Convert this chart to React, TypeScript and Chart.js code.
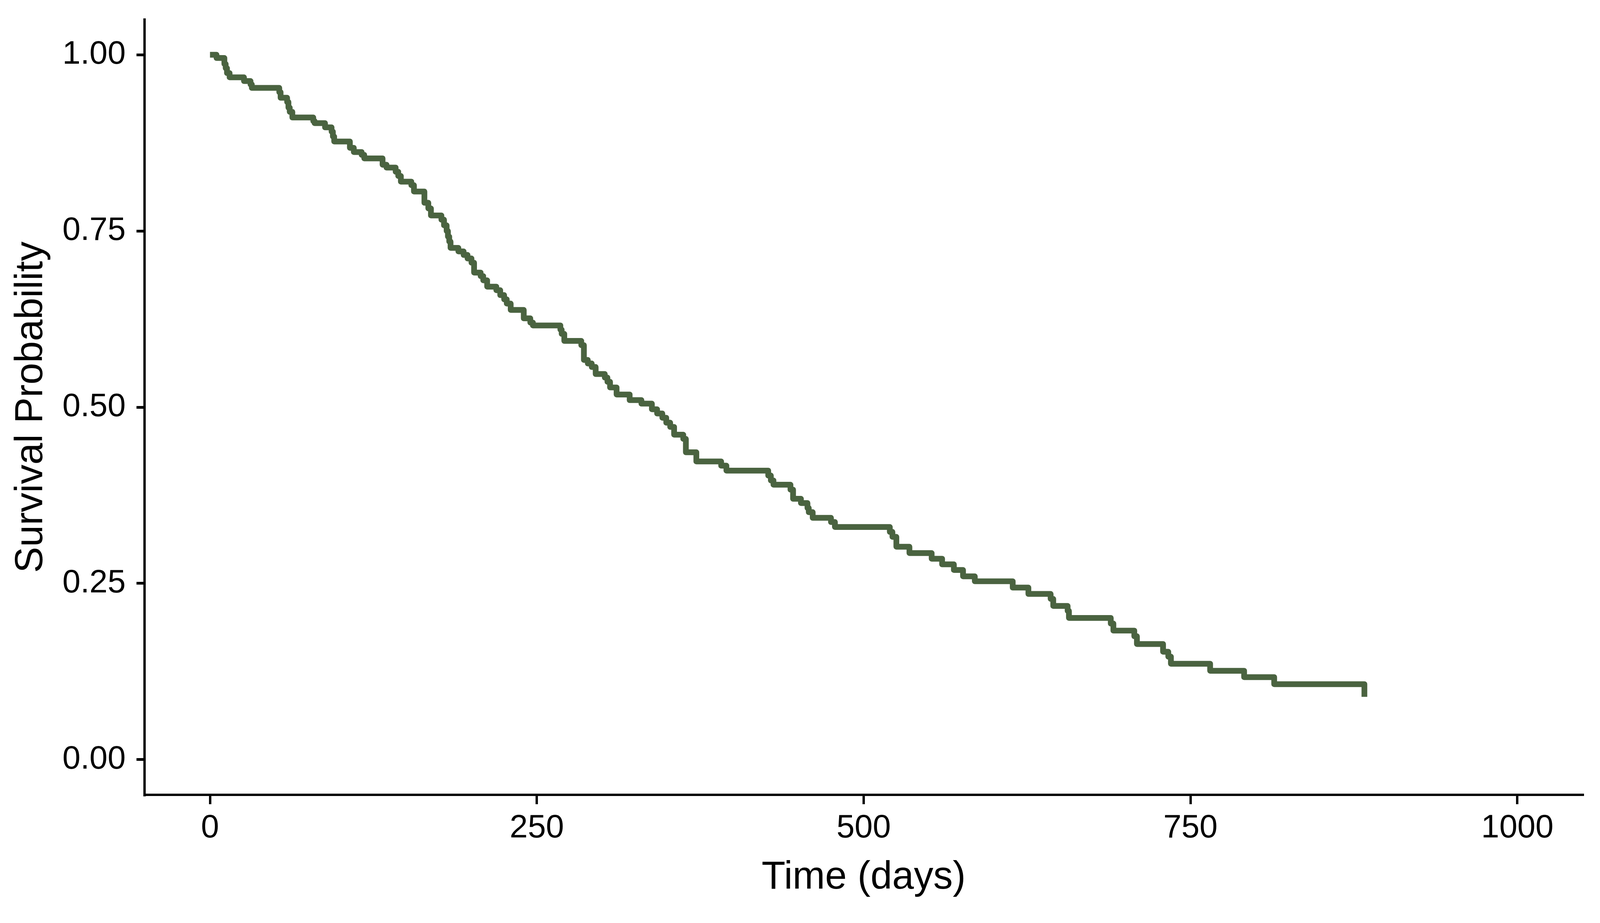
import React, { useEffect, useRef } from "react";
import Chart, { ChartConfiguration } from "chart.js/auto";

// Kaplan-Meier steps: day of each drop and the survival after it
const eventDays: number[] = [
  0, 5, 11, 12, 13, 15, 26, 31, 32, 53,
  54, 59, 60, 61, 63, 79, 80, 88, 93, 94,
  95, 107, 110, 116, 118, 132, 135, 142, 144, 146,
  154, 156, 164, 167, 169, 177, 179, 181, 182, 183,
  184, 190, 194, 197, 200, 202, 207, 209, 212, 219,
  222, 225, 227, 230, 240, 245, 247, 268, 269, 271,
  284, 286, 289, 292, 295, 302, 304, 306, 311, 321,
  330, 338, 342, 346, 349, 352, 355, 362, 364, 372,
  391, 395, 427, 429, 431, 444, 446, 452, 457, 458,
  461, 475, 478, 520, 522, 525, 535, 552, 560, 569,
  576, 585, 614, 626, 643, 645, 656, 657, 689, 691,
  707, 709, 729, 733, 735, 765, 791, 814, 883,
];

const survival: number[] = [
  1.0, 0.9954, 0.987, 0.981, 0.974, 0.968, 0.9627, 0.958, 0.953, 0.947,
  0.939, 0.933, 0.925, 0.919, 0.911, 0.906, 0.903, 0.897, 0.891, 0.884,
  0.877, 0.868, 0.862, 0.858, 0.853, 0.844, 0.84, 0.834, 0.828, 0.82,
  0.815, 0.806, 0.79, 0.782, 0.772, 0.766, 0.758, 0.75, 0.742, 0.735,
  0.726, 0.721, 0.716, 0.711, 0.705, 0.691, 0.686, 0.68, 0.671, 0.666,
  0.659, 0.653, 0.647, 0.638, 0.626, 0.62, 0.616, 0.61, 0.604, 0.594,
  0.588, 0.567, 0.562, 0.557, 0.547, 0.542, 0.536, 0.528, 0.518, 0.51,
  0.505, 0.497, 0.491, 0.485, 0.478, 0.472, 0.461, 0.455, 0.436, 0.423,
  0.417, 0.41, 0.403, 0.396, 0.39, 0.383, 0.37, 0.364, 0.357, 0.351,
  0.343, 0.337, 0.33, 0.323, 0.316, 0.302, 0.293, 0.285, 0.277, 0.269,
  0.26, 0.253, 0.244, 0.235, 0.228, 0.218, 0.211, 0.201, 0.193, 0.183,
  0.175, 0.164, 0.153, 0.146, 0.136, 0.126, 0.117, 0.107, 0.089,
];

const timeTicks: number[] = [0, 250, 500, 750, 1000];
const probTicks: number[] = [0, 0.25, 0.5, 0.75, 1];

const lineColor = "#4a6340";
const fontFamily = "'Liberation Sans', Arial, Helvetica, sans-serif";

const SurvivalChart: React.FC = () => {
  const boxRef = useRef<HTMLDivElement>(null);
  const chartRef = useRef<HTMLCanvasElement>(null);
  const chartInstance = useRef<Chart<"line"> | null>(null);

  useEffect(() => {
    if (chartRef && chartRef.current) {
      const ctx = chartRef.current.getContext("2d");
      if (ctx) {
        if (chartInstance.current) {
          chartInstance.current.destroy();
        }
        // sizes were measured on the 4724x2362 picture; map them onto the page
        const w = (boxRef.current && boxRef.current.clientWidth) || window.innerWidth;
        const h = (boxRef.current && boxRef.current.clientHeight) || window.innerHeight;
        const kx = w / 4724;
        const ky = h / 2362;
        const px = (n: number) => n * kx;
        const py = (n: number) => n * ky;
        const tickFont = px(96);
        const titleFont = px(115);
        const titleHalf = (titleFont * 1.2) / 2;

        chartInstance.current = new Chart(ctx, {
          type: "line",
          data: {
            datasets: [
              {
                label: "Survival",
                data: eventDays.map((t, i) => ({ x: t, y: survival[i] })),
                borderColor: lineColor,
                borderWidth: px(17),
                stepped: "before",
                pointRadius: 0,
                fill: false,
                borderCapStyle: "butt",
                borderJoinStyle: "round",
              },
            ],
          },
          options: {
            responsive: true,
            maintainAspectRatio: false,
            animation: false,
            layout: {
              padding: { top: py(50), right: px(51), left: 0, bottom: 0 },
            },
            plugins: {
              legend: { display: false },
              tooltip: { enabled: false },
            },
            scales: {
              x: {
                type: "linear",
                min: -50,
                max: 1050,
                afterBuildTicks: (scale: any) => {
                  scale.ticks = timeTicks.map((v) => ({ value: v }));
                },
                afterFit: (scale: any) => {
                  scale.height = scale.chart.height - py(2034);
                  scale.paddingLeft = 0;
                  scale.paddingRight = 0;
                },
                border: { display: true, color: "#000", width: px(7) },
                grid: {
                  display: true,
                  drawOnChartArea: false,
                  drawTicks: true,
                  tickLength: py(24),
                  tickWidth: px(7),
                  tickColor: "#000",
                  color: "#000",
                  lineWidth: px(7),
                },
                ticks: {
                  autoSkip: false,
                  maxRotation: 0,
                  padding: py(12),
                  color: "#000",
                  font: { family: fontFamily, size: tickFont },
                  callback: (value) => String(value),
                },
                title: {
                  display: true,
                  text: "Time (days)",
                  color: "#000",
                  font: { family: fontFamily, size: titleFont },
                  padding: { top: 0, bottom: Math.max(py(115) - titleHalf, 0) },
                },
              },
              y: {
                type: "linear",
                min: -0.05,
                max: 1.05,
                afterBuildTicks: (scale: any) => {
                  scale.ticks = probTicks.map((v) => ({ value: v }));
                },
                afterFit: (scale: any) => {
                  scale.width = px(427);
                  scale.paddingTop = 0;
                  scale.paddingBottom = 0;
                },
                border: { display: true, color: "#000", width: px(7) },
                grid: {
                  display: true,
                  drawOnChartArea: false,
                  drawTicks: true,
                  tickLength: px(24),
                  tickWidth: py(7),
                  tickColor: "#000",
                  color: "#000",
                  lineWidth: py(7),
                },
                ticks: {
                  autoSkip: false,
                  padding: px(32),
                  color: "#000",
                  font: { family: fontFamily, size: tickFont },
                  callback: (value) => Number(value).toFixed(2),
                },
                title: {
                  display: true,
                  text: "Survival Probability",
                  color: "#000",
                  font: { family: fontFamily, size: titleFont },
                  padding: { top: Math.max(px(93) - titleHalf, 0), bottom: 0 },
                },
              },
            },
          },
        } as ChartConfiguration<"line">);
      }
    }

    return () => {
      if (chartInstance.current) {
        chartInstance.current.destroy();
        chartInstance.current = null;
      }
    };
  }, []);

  return (
    <div
      ref={boxRef}
      style={{
        position: "fixed",
        left: 0,
        top: 0,
        width: "100vw",
        height: "100vh",
        background: "#fff",
      }}
    >
      <canvas ref={chartRef} />
    </div>
  );
};

export default function App() {
  return <SurvivalChart />;
}
